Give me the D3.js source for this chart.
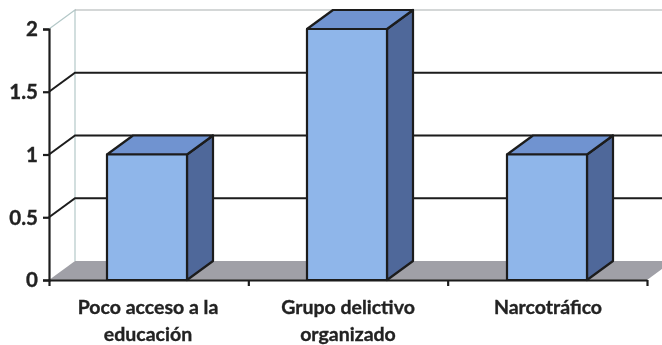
<!DOCTYPE html>
<html>
<head>
<meta charset="utf-8">
<script src="https://cdn.jsdelivr.net/npm/d3@7"></script>
<style>
  html, body { margin: 0; padding: 0; background: #fff; }
  text { font-family: Lato, "Open Sans", sans-serif; font-weight: 700; fill: #222; stroke: #222; stroke-width: 0.35px; }
</style>
</head>
<body>
<svg id="chart" width="662" height="345"></svg>
<script>
const categories = [['Poco acceso a la', 'educación'], ['Grupo delictivo', 'organizado'], ['Narcotráfico']];
const values = [1, 2, 1];
const yTicks = [0, 0.5, 1, 1.5, 2];

const AXIS_X = 49, AXIS_RIGHT = 647;
const Y_ZERO = 280, Y_TOP = 29;
const DEPTH_X = 26, DEPTH_Y = -19;
const INK = '#1c1c1c';

const svg = d3.select('#chart');
const defs = svg.append('defs');
const soft = defs.append('filter').attr('id', 'soft');
soft.append('feGaussianBlur').attr('stdDeviation', 0.35);

// la banda va 1px a la izquierda del eje, igual que las barras del original
const x = d3.scaleBand().domain(d3.range(categories.length)).range([AXIS_X - 1, AXIS_RIGHT - 1]).padding(0.6).paddingOuter(0.295);
const y = d3.scaleLinear().domain([0, 2]).range([Y_ZERO, Y_TOP]);

const g = svg.append('g').attr('filter', 'url(#soft)');
const pts = a => a.map(p => p.join(',')).join(' ');

// piso
g.append('polygon')
  .attr('points', pts([[AXIS_X, Y_ZERO], [AXIS_X + DEPTH_X, Y_ZERO + DEPTH_Y], [AXIS_RIGHT + DEPTH_X, Y_ZERO + DEPTH_Y], [AXIS_RIGHT, Y_ZERO]]))
  .attr('fill', '#a0a0a7');

// pared lateral y linea superior (gris claro)
g.append('path')
  .attr('d', `M${AXIS_X},${y(2)}L${AXIS_X + DEPTH_X},${y(2) + DEPTH_Y}V${Y_ZERO + DEPTH_Y}`)
  .attr('fill', 'none').attr('stroke', '#b4c8c8').attr('stroke-width', 1.2);
g.append('line')
  .attr('x1', AXIS_X + DEPTH_X).attr('x2', AXIS_RIGHT + DEPTH_X)
  .attr('y1', y(2) + DEPTH_Y).attr('y2', y(2) + DEPTH_Y)
  .attr('stroke', '#a9b0b0').attr('stroke-width', 1.2);

// lineas de la reticula
yTicks.filter(d => d > 0 && d < 2).forEach(d => {
  g.append('path')
    .attr('d', `M${AXIS_X},${y(d)}L${AXIS_X + DEPTH_X},${y(d) + DEPTH_Y}H${AXIS_RIGHT + DEPTH_X}`)
    .attr('fill', 'none').attr('stroke', INK).attr('stroke-width', 2);
});

// barras
const bars = g.selectAll('.bar').data(values).enter().append('g').attr('class', 'bar');
const barStroke = s => s.attr('stroke', INK).attr('stroke-width', 2.2).attr('stroke-linejoin', 'round');

bars.append('polygon')
  .attr('points', (d, i) => {
    const r = x(i) + x.bandwidth();
    return pts([[r, y(d)], [r + DEPTH_X, y(d) + DEPTH_Y], [r + DEPTH_X, Y_ZERO + DEPTH_Y], [r, Y_ZERO]]);
  })
  .attr('fill', '#50689a').call(barStroke);

bars.append('polygon')
  .attr('points', (d, i) => {
    const l = x(i), r = l + x.bandwidth();
    return pts([[l, y(d)], [l + DEPTH_X, y(d) + DEPTH_Y], [r + DEPTH_X, y(d) + DEPTH_Y], [r, y(d)]]);
  })
  .attr('fill', '#6f93d0').call(barStroke);

bars.append('rect')
  .attr('x', (d, i) => x(i))
  .attr('y', d => y(d))
  .attr('width', x.bandwidth())
  .attr('height', d => Y_ZERO - y(d))
  .attr('fill', '#8fb6ea').call(barStroke);

// ejes
const yAxis = d3.axisLeft(y).tickValues(yTicks).tickSize(6).tickFormat(d3.format('~g'));
const yG = g.append('g').attr('transform', `translate(${AXIS_X},0)`).call(yAxis);
yG.select('.domain').attr('stroke', INK).attr('stroke-width', 2.2);
yG.selectAll('.tick line').attr('stroke', INK).attr('stroke-width', 2.2);
yG.selectAll('.tick text').attr('x', -11).attr('dy', '0.34em').style('font-size', '20.5px').attr('text-anchor', 'end');

const xTickScale = d3.scaleLinear().domain([0, categories.length]).range([AXIS_X, AXIS_RIGHT]);
const xAxis = d3.axisBottom(xTickScale).tickValues(d3.range(categories.length + 1)).tickSize(6).tickSizeOuter(0).tickFormat('');
const xG = g.append('g').attr('transform', `translate(0,${Y_ZERO})`).call(xAxis);
xG.select('.domain').attr('stroke', INK).attr('stroke-width', 2.2);
xG.selectAll('.tick line').attr('stroke', INK).attr('stroke-width', 2.2);

// etiquetas de categoria
const labels = g.selectAll('.cat').data(categories).enter().append('text')
  .attr('class', 'cat')
  .attr('text-anchor', 'middle')
  .style('font-size', '19.5px');
labels.selectAll('tspan').data((d, i) => d.map(t => ({ t, i }))).enter().append('tspan')
  .attr('x', d => x(d.i) + x.bandwidth() / 2 + 1)
  .attr('y', (d, j) => 314 + j * 27)
  .text(d => d.t);
</script>
</body>
</html>
